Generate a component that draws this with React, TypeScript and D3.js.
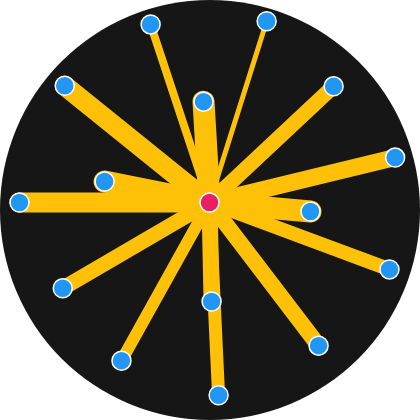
import React from "react";
import * as d3 from "d3";

// spoke angles in degrees, clockwise from north
const angles = [341.7, 356.6, 17.5, 46.9, 76.4, 95.1, 110.4, 142.7, 178.8, 177.3, 209.1, 239.7, 270, 281.3, 308.9];
// distance from the hub (0..100)
const values = [93.8, 50.5, 95, 85, 95.5, 50.7, 96, 90, 49.5, 96.5, 90.5, 85, 95, 53.5, 93];
// spoke weights
const weights = [8, 22, 5, 15, 17, 22, 14, 16, 16, 13, 12, 15, 20, 22, 20];

const W = 420;
const H = 420;
const hub = { x: 209.5, y: 202.5 };

export default function App() {
  const angle = d3.scaleLinear().domain([0, 360]).range([0, 2 * Math.PI]);
  const radius = d3.scaleLinear().domain([0, 100]).range([0, 200]);
  const stroke = d3.scaleLinear().domain([0, 22]).range([0, 22]);

  const points = angles.map((a, i) => {
    const [x, y] = d3.pointRadial(angle(a), radius(values[i]));
    return { x, y, w: stroke(weights[i]) };
  });

  React.useEffect(() => {
    document.body.style.margin = "0";
  }, []);

  return (
    <svg width={W} height={H} style={{ display: "block" }}>
      <circle cx={W / 2} cy={H / 2} r={210} fill="#161616" />
      <g transform={`translate(${hub.x},${hub.y})`}>
        {points.map((p, i) => (
          <line
            key={`l${i}`}
            x1={0}
            y1={0}
            x2={p.x}
            y2={p.y}
            stroke="#FFC107"
            strokeWidth={p.w}
            strokeLinecap="round"
          />
        ))}
        {points.map((p, i) => (
          <circle key={`c${i}`} cx={p.x} cy={p.y} r={9.5} fill="#2196F3" stroke="#fff" strokeWidth={1.5} />
        ))}
        <circle cx={0} cy={0} r={9.5} fill="#E91E63" stroke="#fff" strokeWidth={1.5} />
      </g>
    </svg>
  );
}
